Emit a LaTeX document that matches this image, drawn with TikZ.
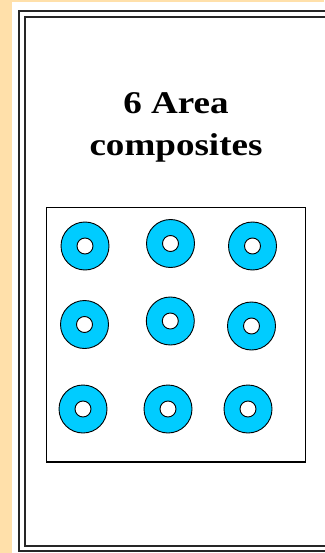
\documentclass[tikz,border=0pt]{standalone}
\usepackage{fontspec}
\setmainfont{Liberation Serif}
\usetikzlibrary{positioning}
\definecolor{pageorange}{RGB}{255,224,170}
\definecolor{ringcyan}{RGB}{0,204,255}
\newcommand{\widetext}[1]{\scalebox{1.09}[0.93]{#1}}

\begin{document}
\begin{tikzpicture}[
    x = 1pt, y = -1pt,
    frameline/.style = {
      draw = black!85, line width = 1.8pt
    },
    ring/.style = {
      circle, draw, fill = ringcyan, line width = 0.9pt,
      inner sep = 0pt, minimum size = 48pt
    },
    hole/.style = {
      circle, draw, fill = white, line width = 0.9pt,
      inner sep = 0pt, minimum size = 16pt
    },
    title/.style = {
      font = \fontsize{34}{42}\selectfont\bfseries, align = center
    },
    ]

    % page background
    \fill  [pageorange]  (0,0)  rectangle  (324,553);
    \useasboundingbox  (0,0)  rectangle  (324,553);
    \fill  [white]  (12,2)  rectangle  (324,553);

    % double frame
    \draw  [frameline]  (19,11)  rectangle  (340,551);
    \draw  [frameline]  (25,17)  rectangle  (334,546);

    % caption
    \node  [title]  (title)  at  (176,127)  {\widetext{6 Area}\\\widetext{composites}};

    % box with the composites
    \node  [draw, line width = 1.3pt, inner sep = 0pt,
      minimum width = 259pt, minimum height = 254.5pt]  (panel)  at  (176,334.75)  {};

    % draw rings
    \foreach \x/\y [count = \n] in {85/246, 170.5/243.5, 252.5/246,
      84.5/324.5, 170.3/321, 251.5/326, 83/409, 168/409, 248/409}
    {
    \node  [ring]  (ring\n)  at  (\x,\y)  {};
    \node  [hole]  (hole\n)  at  (ring\n)  {};
    }
\end{tikzpicture}
\end{document}
